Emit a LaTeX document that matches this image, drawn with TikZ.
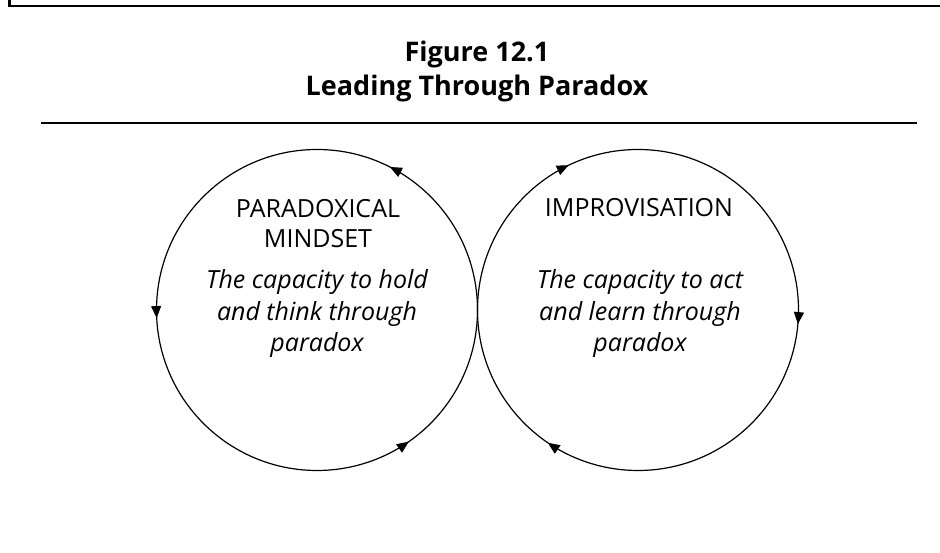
\documentclass[tikz,border=0pt]{standalone}
\usepackage{fontspec}
\setmainfont{Open Sans}
\usetikzlibrary{arrows.meta,decorations.markings}

\begin{document}
\begin{tikzpicture}[x=1pt,y=1pt,
        >={Triangle[length=12pt,width=10pt]},
        title/.style={font=\fontsize{27}{34}\selectfont\bfseries,align=center,inner sep=0pt,anchor=base},
        heading/.style={font=\fontsize{25}{30}\selectfont,align=center,inner sep=0pt,anchor=base},
        caption/.style={font=\fontsize{25}{31.5}\selectfont\itshape,align=center,inner sep=0pt,anchor=base},
        ring/.style={line width=1.2pt,postaction={decorate}},
        ring ccw/.style={ring,decoration={markings,
            mark=at position 0.175 with {\arrow{>}},
            mark=at position 0.508 with {\arrow{>}},
            mark=at position 0.847 with {\arrow{>}}}},
        ring cw/.style={ring,decoration={markings,
            mark=at position 0.014 with {\arrow{>}},
            mark=at position 0.345 with {\arrow{>}},
            mark=at position 0.679 with {\arrow{>}}}}]

    \useasboundingbox (0,0) rectangle (940,553);

    % frame and rule
    \draw[line width=2.6pt] (9.5,553) -- (9.5,547) -- (940,547);
    \draw[line width=1.8pt] (41,430) -- (917,430);

    % base of a multi-line node is its last line
    \node[title] (fig) at (477,457) {Figure 12.1\\Leading Through Paradox};

    % the two loops
    \coordinate (mindset) at (317,243);
    \coordinate (improv) at (638,243);

    \node[heading] (mindsethead) at (318,305) {PARADOXICAL\\MINDSET};
    \node[caption] (mindsettext) at (317,201) {The capacity to hold\\and think through\\paradox};
    \node[heading] (improvhead) at (639,336) {IMPROVISATION};
    \node[caption] (improvtext) at (640,201) {The capacity to act\\and learn through\\paradox};

    \draw[ring ccw] (mindset) circle[radius=160.5];
    \draw[ring cw] (improv) ++(160.5,0) arc[start angle=0,end angle=-360,radius=160.5];
\end{tikzpicture}
\end{document}
